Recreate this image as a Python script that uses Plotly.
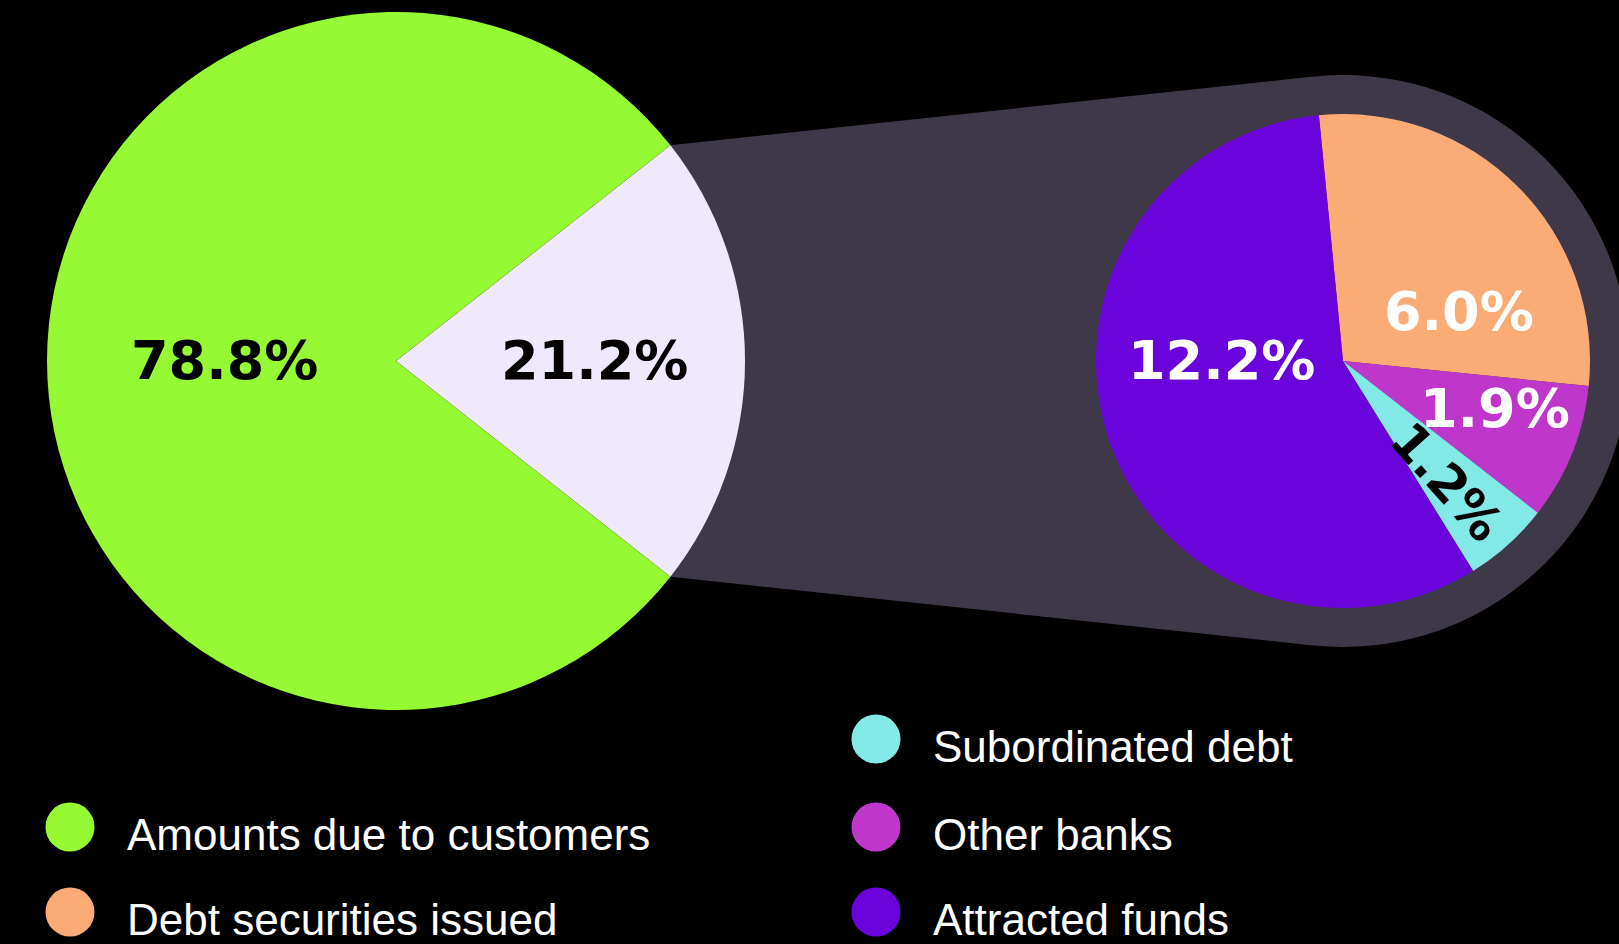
import math
import plotly.graph_objects as go

W, H = 1619, 944

# Overall split of liabilities
MAIN_LABELS = ["Other funding", "Amounts due to customers"]
MAIN_VALUES = [21.2, 78.8]
MAIN_COLORS = ["#f0e9fc", "#95f933"]
MAIN_TEXT_COLORS = ["#000000", "#000000"]

# Breakdown of the "other funding" share
DETAIL_LABELS = ["Debt securities issued", "Other banks", "Subordinated debt", "Attracted funds"]
DETAIL_VALUES = [6.0, 1.9, 1.2, 12.2]
DETAIL_COLORS = ["#fbac76", "#bf37ca", "#83e9e6", "#6a04db"]
DETAIL_TEXT_COLORS = ["#ffffff", "#ffffff", "#000000", "#ffffff"]

# Legend entries: (label, colour, column, row)
LEGEND_ITEMS = [
    ("Subordinated debt", "#83e9e6", 1, 0),
    ("Other banks", "#bf37ca", 1, 1),
    ("Attracted funds", "#6a04db", 1, 2),
    ("Amounts due to customers", "#95f933", 0, 1),
    ("Debt securities issued", "#fbac76", 0, 2),
]

# ---- geometry (pixels, origin top-left) ----
MAIN_CX, MAIN_CY, MAIN_R = 396, 361, 349
DET_CX, DET_CY, DET_R = 1343, 361, 247
RING_R = 286
DETAIL_ROTATION = -5.6
RING_COLOR = "#3e3849"

LABEL_FONT = dict(family="DejaVu Sans", size=54, weight="bold")
RADIAL_LABEL_FONT = dict(family="DejaVu Sans", size=50, weight="bold")
LEGEND_FONT = dict(family="Liberation Sans", size=44, color="#ffffff")


def px(x):
    return x / W


def py(y):
    return 1 - y / H


def domain(cx, cy, r):
    return dict(x=[px(cx - r), px(cx + r)], y=[py(cy + r), py(cy - r)])


fig = go.Figure()

# the broken-out slice is centred on 3 o'clock
other_half = MAIN_VALUES[0] / sum(MAIN_VALUES) * 180.0
fig.add_trace(go.Pie(
    labels=MAIN_LABELS, values=MAIN_VALUES, sort=False, direction="clockwise",
    rotation=90 - other_half, domain=domain(MAIN_CX, MAIN_CY, MAIN_R),
    marker=dict(colors=MAIN_COLORS, line=dict(width=0)),
    textinfo="none", showlegend=False, hoverinfo="label+value",
))
fig.add_trace(go.Pie(
    labels=DETAIL_LABELS, values=DETAIL_VALUES, sort=False, direction="clockwise",
    rotation=DETAIL_ROTATION, domain=domain(DET_CX, DET_CY, DET_R),
    marker=dict(colors=DETAIL_COLORS, line=dict(width=0)),
    textinfo="none", showlegend=False, hoverinfo="label+value",
))

# ---- connector band from the broken-out slice to the detail ring ----
a = math.radians(other_half)
p_top = (MAIN_CX + MAIN_R * math.cos(a), MAIN_CY - MAIN_R * math.sin(a))
p_bot = (MAIN_CX + MAIN_R * math.cos(a), MAIN_CY + MAIN_R * math.sin(a))


def tangent(p, upper):
    dx, dy = p[0] - DET_CX, p[1] - DET_CY
    d = math.hypot(dx, dy)
    phi = math.atan2(dy, dx)
    off = math.acos(RING_R / d)
    cands = [phi + off, phi - off]
    pts = [(DET_CX + RING_R * math.cos(t), DET_CY + RING_R * math.sin(t)) for t in cands]
    pts.sort(key=lambda q: q[1])
    return pts[0] if upper else pts[1]


t_top = tangent(p_top, True)
t_bot = tangent(p_bot, False)
path = "M {} {} L {} {} L {} {} L {} {} Z".format(
    px(p_top[0]), py(p_top[1]), px(t_top[0]), py(t_top[1]),
    px(t_bot[0]), py(t_bot[1]), px(p_bot[0]), py(p_bot[1]))

shapes = [
    dict(type="path", path=path, xref="paper", yref="paper", layer="below",
         fillcolor=RING_COLOR, line=dict(width=0)),
    dict(type="circle", xref="paper", yref="paper", layer="below",
         x0=px(DET_CX - RING_R), x1=px(DET_CX + RING_R),
         y0=py(DET_CY + RING_R), y1=py(DET_CY - RING_R),
         fillcolor=RING_COLOR, line=dict(width=0)),
]

annotations = []


def slice_label(cx, cy, r, value, color, ang_deg, frac, textangle=0, font=LABEL_FONT):
    t = math.radians(ang_deg)
    x = cx + frac * r * math.cos(t)
    y = cy - frac * r * math.sin(t)
    annotations.append(dict(
        x=px(x), y=py(y), xref="paper", yref="paper", showarrow=False,
        text=f"{value:.1f}%", textangle=textangle,
        font=dict(color=color, **font),
        xanchor="center", yanchor="middle",
    ))


# label placement (angle in degrees counter-clockwise from 3 o'clock, radial fraction)
MAIN_LABEL_POS = [(0, 0.57), (180, 0.49)]
for v, c, (ang, fr) in zip(MAIN_VALUES, MAIN_TEXT_COLORS, MAIN_LABEL_POS):
    slice_label(MAIN_CX, MAIN_CY, MAIN_R, v, c, ang, fr)

# mid-angles of the detail slices, used for the radial label
total = sum(DETAIL_VALUES)
start = 90 - DETAIL_ROTATION
mids = []
for v in DETAIL_VALUES:
    span = v / total * 360
    mids.append(start - span / 2)
    start -= span

DETAIL_LABEL_POS = [(22.9, 0.51, False), (-17.5, 0.645, False), (None, 0.645, True), (180, 0.49, False)]
for v, c, m, (ang, fr, radial) in zip(DETAIL_VALUES, DETAIL_TEXT_COLORS, mids, DETAIL_LABEL_POS):
    if radial:
        slice_label(DET_CX, DET_CY, DET_R, v, c, m - 1.5, fr, textangle=-m, font=RADIAL_LABEL_FONT)
    else:
        slice_label(DET_CX, DET_CY, DET_R, v, c, ang, fr)

# ---- legend ----
COL_X = [70, 876]
ROW_Y = [739, 827, 912]
DOT_R = 24.5
for label, color, col, row in LEGEND_ITEMS:
    cx, cy = COL_X[col], ROW_Y[row]
    shapes.append(dict(type="circle", xref="paper", yref="paper", layer="above",
                       x0=px(cx - DOT_R), x1=px(cx + DOT_R),
                       y0=py(cy + DOT_R), y1=py(cy - DOT_R),
                       fillcolor=color, line=dict(width=0)))
    annotations.append(dict(
        x=px(cx + 55), y=py(cy + 7), xref="paper", yref="paper", showarrow=False,
        text=label, font=LEGEND_FONT, xanchor="left", yanchor="middle",
    ))

fig.update_layout(
    width=W, height=H, margin=dict(l=0, r=0, t=0, b=0),
    paper_bgcolor="#000000", plot_bgcolor="#000000",
    shapes=shapes, annotations=annotations, showlegend=False,
)

fig.write_html("out.html")
